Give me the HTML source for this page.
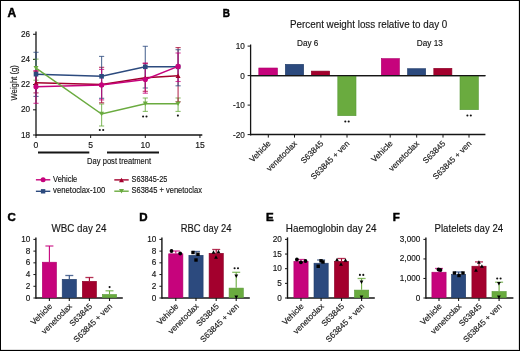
<!DOCTYPE html>
<html><head><meta charset="utf-8"><style>
html,body{margin:0;padding:0;background:#fff;}
svg{display:block;}
text{font-family:"Liberation Sans", sans-serif;stroke:#151515;stroke-width:0.15px;}
</style></head><body>
<div style="will-change:transform"><svg width="520" height="351" viewBox="0 0 520 351">
<rect x="0" y="0" width="520" height="351" fill="#fff"/>
<text x="7.6" y="16.8" font-size="12" text-anchor="start" font-weight="bold" fill="#000"  style="stroke:#000;stroke-width:0.5px">A</text>
<line x1="36" y1="31.5" x2="36" y2="135.7" stroke="#151515" stroke-width="1.3" />
<line x1="33" y1="135.0" x2="36" y2="135.0" stroke="#151515" stroke-width="1" />
<text x="30" y="137.5" font-size="8.2" text-anchor="end" font-weight="normal" fill="#151515" >18</text>
<line x1="33" y1="109.82" x2="36" y2="109.82" stroke="#151515" stroke-width="1" />
<text x="30" y="112.32" font-size="8.2" text-anchor="end" font-weight="normal" fill="#151515" >20</text>
<line x1="33" y1="84.64" x2="36" y2="84.64" stroke="#151515" stroke-width="1" />
<text x="30" y="87.14" font-size="8.2" text-anchor="end" font-weight="normal" fill="#151515" >22</text>
<line x1="33" y1="59.46000000000001" x2="36" y2="59.46000000000001" stroke="#151515" stroke-width="1" />
<text x="30" y="61.96000000000001" font-size="8.2" text-anchor="end" font-weight="normal" fill="#151515" >24</text>
<line x1="33" y1="34.28" x2="36" y2="34.28" stroke="#151515" stroke-width="1" />
<text x="30" y="36.78" font-size="8.2" text-anchor="end" font-weight="normal" fill="#151515" >26</text>
<line x1="36" y1="135" x2="202.3" y2="135" stroke="#151515" stroke-width="1.5" />
<line x1="36.0" y1="135" x2="36.0" y2="138" stroke="#151515" stroke-width="1" />
<text x="36.0" y="147.6" font-size="8.6" text-anchor="middle" font-weight="normal" fill="#151515" >0</text>
<line x1="90.65" y1="135" x2="90.65" y2="138" stroke="#151515" stroke-width="1" />
<text x="90.65" y="147.6" font-size="8.6" text-anchor="middle" font-weight="normal" fill="#151515" >5</text>
<line x1="145.3" y1="135" x2="145.3" y2="138" stroke="#151515" stroke-width="1" />
<text x="145.3" y="147.6" font-size="8.6" text-anchor="middle" font-weight="normal" fill="#151515" >10</text>
<line x1="199.95" y1="135" x2="199.95" y2="138" stroke="#151515" stroke-width="1" />
<text x="199.95" y="147.6" font-size="8.6" text-anchor="middle" font-weight="normal" fill="#151515" >15</text>
<line x1="38" y1="152.5" x2="89.3" y2="152.5" stroke="#151515" stroke-width="2" />
<line x1="107" y1="152.5" x2="159" y2="152.5" stroke="#151515" stroke-width="2" />
<text x="87.1" y="164.1" font-size="9.3" text-anchor="start" font-weight="normal" fill="#151515" textLength="64" lengthAdjust="spacingAndGlyphs">Day post treatment</text>
<text transform="translate(16.5,82.8) rotate(-90)" x="0" y="0" font-size="9.8" text-anchor="middle" fill="#151515" textLength="35.5" lengthAdjust="spacingAndGlyphs">Weight (g)</text>
<line x1="36.0" y1="59.1" x2="36.0" y2="80.2" stroke="#6aab3f" stroke-width="1.2" opacity="0.75"/>
<line x1="33.4" y1="59.1" x2="38.6" y2="59.1" stroke="#6aab3f" stroke-width="1.1" opacity="0.75"/>
<line x1="33.4" y1="80.2" x2="38.6" y2="80.2" stroke="#6aab3f" stroke-width="1.1" opacity="0.75"/>
<line x1="101.58" y1="104" x2="101.58" y2="126" stroke="#6aab3f" stroke-width="1.2" opacity="0.75"/>
<line x1="98.98" y1="104" x2="104.17999999999999" y2="104" stroke="#6aab3f" stroke-width="1.1" opacity="0.75"/>
<line x1="98.98" y1="126" x2="104.17999999999999" y2="126" stroke="#6aab3f" stroke-width="1.1" opacity="0.75"/>
<line x1="145.3" y1="98" x2="145.3" y2="111.4" stroke="#6aab3f" stroke-width="1.2" opacity="0.75"/>
<line x1="142.70000000000002" y1="98" x2="147.9" y2="98" stroke="#6aab3f" stroke-width="1.1" opacity="0.75"/>
<line x1="142.70000000000002" y1="111.4" x2="147.9" y2="111.4" stroke="#6aab3f" stroke-width="1.1" opacity="0.75"/>
<line x1="178.09" y1="98" x2="178.09" y2="111.4" stroke="#6aab3f" stroke-width="1.2" opacity="0.75"/>
<line x1="175.49" y1="98" x2="180.69" y2="98" stroke="#6aab3f" stroke-width="1.1" opacity="0.75"/>
<line x1="175.49" y1="111.4" x2="180.69" y2="111.4" stroke="#6aab3f" stroke-width="1.1" opacity="0.75"/>
<line x1="36.0" y1="71.4" x2="36.0" y2="92.9" stroke="#a3002d" stroke-width="1.2" opacity="0.75"/>
<line x1="33.4" y1="71.4" x2="38.6" y2="71.4" stroke="#a3002d" stroke-width="1.1" opacity="0.75"/>
<line x1="33.4" y1="92.9" x2="38.6" y2="92.9" stroke="#a3002d" stroke-width="1.1" opacity="0.75"/>
<line x1="101.58" y1="67.3" x2="101.58" y2="102.8" stroke="#a3002d" stroke-width="1.2" opacity="0.75"/>
<line x1="98.98" y1="67.3" x2="104.17999999999999" y2="67.3" stroke="#a3002d" stroke-width="1.1" opacity="0.75"/>
<line x1="98.98" y1="102.8" x2="104.17999999999999" y2="102.8" stroke="#a3002d" stroke-width="1.1" opacity="0.75"/>
<line x1="145.3" y1="63.5" x2="145.3" y2="91.3" stroke="#a3002d" stroke-width="1.2" opacity="0.75"/>
<line x1="142.70000000000002" y1="63.5" x2="147.9" y2="63.5" stroke="#a3002d" stroke-width="1.1" opacity="0.75"/>
<line x1="142.70000000000002" y1="91.3" x2="147.9" y2="91.3" stroke="#a3002d" stroke-width="1.1" opacity="0.75"/>
<line x1="178.09" y1="47.6" x2="178.09" y2="101.8" stroke="#a3002d" stroke-width="1.2" opacity="0.75"/>
<line x1="175.49" y1="47.6" x2="180.69" y2="47.6" stroke="#a3002d" stroke-width="1.1" opacity="0.75"/>
<line x1="175.49" y1="101.8" x2="180.69" y2="101.8" stroke="#a3002d" stroke-width="1.1" opacity="0.75"/>
<line x1="36.0" y1="52.3" x2="36.0" y2="96.4" stroke="#2c4a7e" stroke-width="1.2" opacity="0.75"/>
<line x1="33.4" y1="52.3" x2="38.6" y2="52.3" stroke="#2c4a7e" stroke-width="1.1" opacity="0.75"/>
<line x1="33.4" y1="96.4" x2="38.6" y2="96.4" stroke="#2c4a7e" stroke-width="1.1" opacity="0.75"/>
<line x1="101.58" y1="56.4" x2="101.58" y2="98.3" stroke="#2c4a7e" stroke-width="1.2" opacity="0.75"/>
<line x1="98.98" y1="56.4" x2="104.17999999999999" y2="56.4" stroke="#2c4a7e" stroke-width="1.1" opacity="0.75"/>
<line x1="98.98" y1="98.3" x2="104.17999999999999" y2="98.3" stroke="#2c4a7e" stroke-width="1.1" opacity="0.75"/>
<line x1="145.3" y1="46.3" x2="145.3" y2="88" stroke="#2c4a7e" stroke-width="1.2" opacity="0.75"/>
<line x1="142.70000000000002" y1="46.3" x2="147.9" y2="46.3" stroke="#2c4a7e" stroke-width="1.1" opacity="0.75"/>
<line x1="142.70000000000002" y1="88" x2="147.9" y2="88" stroke="#2c4a7e" stroke-width="1.1" opacity="0.75"/>
<line x1="178.09" y1="49.7" x2="178.09" y2="85.8" stroke="#2c4a7e" stroke-width="1.2" opacity="0.75"/>
<line x1="175.49" y1="49.7" x2="180.69" y2="49.7" stroke="#2c4a7e" stroke-width="1.1" opacity="0.75"/>
<line x1="175.49" y1="85.8" x2="180.69" y2="85.8" stroke="#2c4a7e" stroke-width="1.1" opacity="0.75"/>
<line x1="36.0" y1="70.5" x2="36.0" y2="103.3" stroke="#c6037c" stroke-width="1.2" opacity="0.75"/>
<line x1="33.4" y1="70.5" x2="38.6" y2="70.5" stroke="#c6037c" stroke-width="1.1" opacity="0.75"/>
<line x1="33.4" y1="103.3" x2="38.6" y2="103.3" stroke="#c6037c" stroke-width="1.1" opacity="0.75"/>
<line x1="101.58" y1="69.4" x2="101.58" y2="99.9" stroke="#c6037c" stroke-width="1.2" opacity="0.75"/>
<line x1="98.98" y1="69.4" x2="104.17999999999999" y2="69.4" stroke="#c6037c" stroke-width="1.1" opacity="0.75"/>
<line x1="98.98" y1="99.9" x2="104.17999999999999" y2="99.9" stroke="#c6037c" stroke-width="1.1" opacity="0.75"/>
<line x1="145.3" y1="63" x2="145.3" y2="93.2" stroke="#c6037c" stroke-width="1.2" opacity="0.75"/>
<line x1="142.70000000000002" y1="63" x2="147.9" y2="63" stroke="#c6037c" stroke-width="1.1" opacity="0.75"/>
<line x1="142.70000000000002" y1="93.2" x2="147.9" y2="93.2" stroke="#c6037c" stroke-width="1.1" opacity="0.75"/>
<line x1="178.09" y1="53" x2="178.09" y2="81.5" stroke="#c6037c" stroke-width="1.2" opacity="0.75"/>
<line x1="175.49" y1="53" x2="180.69" y2="53" stroke="#c6037c" stroke-width="1.1" opacity="0.75"/>
<line x1="175.49" y1="81.5" x2="180.69" y2="81.5" stroke="#c6037c" stroke-width="1.1" opacity="0.75"/>
<polyline points="36.0,74.2 101.58,76.3 145.3,66.8 178.09,66.8" fill="none" stroke="#2c4a7e" stroke-width="1.5"/>
<rect x="33.7" y="71.9" width="4.6" height="4.6" fill="#2c4a7e"/>
<rect x="99.28" y="74.0" width="4.6" height="4.6" fill="#2c4a7e"/>
<rect x="143.0" y="64.5" width="4.6" height="4.6" fill="#2c4a7e"/>
<rect x="175.79" y="64.5" width="4.6" height="4.6" fill="#2c4a7e"/>
<polyline points="36.0,82.7 101.58,84.5 145.3,77.8 178.09,75.8" fill="none" stroke="#a3002d" stroke-width="1.5"/>
<polygon points="33.5,84.95 38.5,84.95 36.0,80.45" fill="#a3002d"/>
<polygon points="99.08,86.75 104.08,86.75 101.58,82.25" fill="#a3002d"/>
<polygon points="142.8,80.05 147.8,80.05 145.3,75.55" fill="#a3002d"/>
<polygon points="175.59,78.05 180.59,78.05 178.09,73.55" fill="#a3002d"/>
<polyline points="36.0,86.8 101.58,84.9 145.3,79.5 178.09,66.4" fill="none" stroke="#c6037c" stroke-width="1.5"/>
<circle cx="36.0" cy="86.8" r="2.6" fill="#c6037c"/>
<circle cx="101.58" cy="84.9" r="2.6" fill="#c6037c"/>
<circle cx="145.3" cy="79.5" r="2.6" fill="#c6037c"/>
<circle cx="178.09" cy="66.4" r="2.6" fill="#c6037c"/>
<polyline points="36.0,68.2 101.58,114 145.3,103.7 178.09,103.7" fill="none" stroke="#6aab3f" stroke-width="1.5"/>
<polygon points="33.5,65.95 38.5,65.95 36.0,70.45" fill="#6aab3f"/>
<polygon points="99.08,111.75 104.08,111.75 101.58,116.25" fill="#6aab3f"/>
<polygon points="142.8,101.45 147.8,101.45 145.3,105.95" fill="#6aab3f"/>
<polygon points="175.59,101.45 180.59,101.45 178.09,105.95" fill="#6aab3f"/>
<circle cx="99.8" cy="130" r="1.05" fill="#111"/><circle cx="103.2" cy="130" r="1.05" fill="#111"/>
<circle cx="143.10000000000002" cy="116.5" r="1.05" fill="#111"/><circle cx="146.5" cy="116.5" r="1.05" fill="#111"/>
<circle cx="177.9" cy="115.6" r="1.05" fill="#111"/>
<line x1="35.9" y1="179.8" x2="50.3" y2="179.8" stroke="#c6037c" stroke-width="1.4" />
<circle cx="43.1" cy="179.8" r="2.5" fill="#c6037c"/>
<text x="53.099999999999994" y="181.60000000000002" font-size="8.8" text-anchor="start" font-weight="normal" fill="#151515" textLength="24.2" lengthAdjust="spacingAndGlyphs">Vehicle</text>
<line x1="35.9" y1="191.3" x2="50.3" y2="191.3" stroke="#2c4a7e" stroke-width="1.4" />
<rect x="40.9" y="189.10000000000002" width="4.4" height="4.4" fill="#2c4a7e"/>
<text x="53.099999999999994" y="193.10000000000002" font-size="8.8" text-anchor="start" font-weight="normal" fill="#151515" textLength="52.2" lengthAdjust="spacingAndGlyphs">venetoclax-100</text>
<line x1="114.3" y1="179.9" x2="128.7" y2="179.9" stroke="#a3002d" stroke-width="1.4" />
<polygon points="119.0,182.15 124.0,182.15 121.5,177.65" fill="#a3002d"/>
<text x="131.5" y="181.70000000000002" font-size="8.8" text-anchor="start" font-weight="normal" fill="#151515" textLength="35.8" lengthAdjust="spacingAndGlyphs">S63845-25</text>
<line x1="114.3" y1="191.2" x2="128.7" y2="191.2" stroke="#6aab3f" stroke-width="1.4" />
<polygon points="119.0,188.95 124.0,188.95 121.5,193.45" fill="#6aab3f"/>
<text x="131.5" y="193.0" font-size="8.8" text-anchor="start" font-weight="normal" fill="#151515" textLength="70.4" lengthAdjust="spacingAndGlyphs">S63845 + venetoclax</text>
<text x="222.7" y="16.8" font-size="11.6" text-anchor="start" font-weight="bold" fill="#000" textLength="7.2" lengthAdjust="spacingAndGlyphs" style="stroke:#000;stroke-width:0.5px">B</text>
<text x="290" y="27.6" font-size="10.6" text-anchor="start" font-weight="normal" fill="#151515" textLength="157.3" lengthAdjust="spacingAndGlyphs">Percent weight loss relative to day 0</text>
<line x1="250.6" y1="44.5" x2="250.6" y2="135.5" stroke="#151515" stroke-width="1.3" />
<line x1="247.6" y1="46.099999999999994" x2="250.6" y2="46.099999999999994" stroke="#151515" stroke-width="1" />
<text x="244.9" y="48.99999999999999" font-size="8.2" text-anchor="end" font-weight="normal" fill="#151515" >10</text>
<line x1="247.6" y1="75.6" x2="250.6" y2="75.6" stroke="#151515" stroke-width="1" />
<text x="244.9" y="78.5" font-size="8.2" text-anchor="end" font-weight="normal" fill="#151515" >0</text>
<line x1="247.6" y1="105.1" x2="250.6" y2="105.1" stroke="#151515" stroke-width="1" />
<text x="244.9" y="108.0" font-size="8.2" text-anchor="end" font-weight="normal" fill="#151515" >-10</text>
<line x1="247.6" y1="134.6" x2="250.6" y2="134.6" stroke="#151515" stroke-width="1" />
<text x="244.9" y="137.5" font-size="8.2" text-anchor="end" font-weight="normal" fill="#151515" >-20</text>
<line x1="250.6" y1="75.6" x2="485.4" y2="75.6" stroke="#151515" stroke-width="1.1" />
<line x1="250.6" y1="134.6" x2="485.4" y2="134.6" stroke="#151515" stroke-width="1.5" />
<line x1="268.3" y1="134.6" x2="268.3" y2="137.6" stroke="#151515" stroke-width="1" />
<line x1="294.5" y1="134.6" x2="294.5" y2="137.6" stroke="#151515" stroke-width="1" />
<line x1="320.9" y1="134.6" x2="320.9" y2="137.6" stroke="#151515" stroke-width="1" />
<line x1="347" y1="134.6" x2="347" y2="137.6" stroke="#151515" stroke-width="1" />
<line x1="390.2" y1="134.6" x2="390.2" y2="137.6" stroke="#151515" stroke-width="1" />
<line x1="416.7" y1="134.6" x2="416.7" y2="137.6" stroke="#151515" stroke-width="1" />
<line x1="443" y1="134.6" x2="443" y2="137.6" stroke="#151515" stroke-width="1" />
<line x1="469" y1="134.6" x2="469" y2="137.6" stroke="#151515" stroke-width="1" />
<rect x="258.8" y="68.0" width="18.7" height="7.299999999999992" fill="#c6037c" stroke="#ad006c" stroke-width="0.6"/>
<rect x="285.3" y="64.3" width="18.4" height="10.999999999999995" fill="#2c4a7e" stroke="#213c6a" stroke-width="0.6"/>
<rect x="311.3" y="71.1" width="18.4" height="4.1999999999999975" fill="#a3002d" stroke="#8a0026" stroke-width="0.6"/>
<rect x="337.8" y="75.89999999999999" width="18.2" height="39.800000000000004" fill="#6aab3f" stroke="#589a36" stroke-width="0.6"/>
<rect x="381.3" y="58.599999999999994" width="18.099999999999998" height="16.699999999999996" fill="#c6037c" stroke="#ad006c" stroke-width="0.6"/>
<rect x="407.5" y="68.7" width="18.2" height="6.599999999999989" fill="#2c4a7e" stroke="#213c6a" stroke-width="0.6"/>
<rect x="433.8" y="68.3" width="18.099999999999998" height="6.999999999999995" fill="#a3002d" stroke="#8a0026" stroke-width="0.6"/>
<rect x="460.0" y="75.89999999999999" width="18.4" height="33.800000000000004" fill="#6aab3f" stroke="#589a36" stroke-width="0.6"/>
<line x1="250.6" y1="75.6" x2="485.4" y2="75.6" stroke="#151515" stroke-width="1.1" />
<text x="307.7" y="46.1" font-size="8.2" text-anchor="middle" font-weight="normal" fill="#151515" >Day 6</text>
<text x="429.8" y="46.1" font-size="8.2" text-anchor="middle" font-weight="normal" fill="#151515" >Day 13</text>
<circle cx="345.3" cy="121.5" r="1.05" fill="#111"/><circle cx="348.7" cy="121.5" r="1.05" fill="#111"/>
<circle cx="467.40000000000003" cy="115.5" r="1.05" fill="#111"/><circle cx="470.8" cy="115.5" r="1.05" fill="#111"/>
<text transform="translate(271.3,144.1) rotate(-45)" font-size="8.2" text-anchor="end" fill="#151515">Vehicle</text>
<text transform="translate(297.5,144.1) rotate(-45)" font-size="8.2" text-anchor="end" fill="#151515">venetoclax</text>
<text transform="translate(323.9,144.1) rotate(-45)" font-size="8.2" text-anchor="end" fill="#151515">S63845</text>
<text transform="translate(350,144.1) rotate(-45)" font-size="8.2" text-anchor="end" fill="#151515">S63845 + ven</text>
<text transform="translate(393.2,144.1) rotate(-45)" font-size="8.2" text-anchor="end" fill="#151515">Vehicle</text>
<text transform="translate(419.7,144.1) rotate(-45)" font-size="8.2" text-anchor="end" fill="#151515">venetoclax</text>
<text transform="translate(446,144.1) rotate(-45)" font-size="8.2" text-anchor="end" fill="#151515">S63845</text>
<text transform="translate(472,144.1) rotate(-45)" font-size="8.2" text-anchor="end" fill="#151515">S63845 + ven</text>
<text x="7.5" y="221.2" font-size="11.5" text-anchor="start" font-weight="bold" fill="#000"  style="stroke:#000;stroke-width:0.5px">C</text>
<text x="51.5" y="231.6" font-size="10.6" text-anchor="start" font-weight="normal" fill="#151515" textLength="55" lengthAdjust="spacingAndGlyphs">WBC day 24</text>
<line x1="35.9" y1="237.4" x2="35.9" y2="298.7" stroke="#151515" stroke-width="1.4" />
<line x1="33.4" y1="298.0" x2="35.9" y2="298.0" stroke="#151515" stroke-width="1" />
<text x="30.299999999999997" y="300.5" font-size="8.2" text-anchor="end" font-weight="normal" fill="#151515" >0</text>
<line x1="33.4" y1="286.28" x2="35.9" y2="286.28" stroke="#151515" stroke-width="1" />
<text x="30.299999999999997" y="288.78" font-size="8.2" text-anchor="end" font-weight="normal" fill="#151515" >2</text>
<line x1="33.4" y1="274.56" x2="35.9" y2="274.56" stroke="#151515" stroke-width="1" />
<text x="30.299999999999997" y="277.06" font-size="8.2" text-anchor="end" font-weight="normal" fill="#151515" >4</text>
<line x1="33.4" y1="262.84000000000003" x2="35.9" y2="262.84000000000003" stroke="#151515" stroke-width="1" />
<text x="30.299999999999997" y="265.34000000000003" font-size="8.2" text-anchor="end" font-weight="normal" fill="#151515" >6</text>
<line x1="33.4" y1="251.12" x2="35.9" y2="251.12" stroke="#151515" stroke-width="1" />
<text x="30.299999999999997" y="253.62" font-size="8.2" text-anchor="end" font-weight="normal" fill="#151515" >8</text>
<line x1="33.4" y1="239.4" x2="35.9" y2="239.4" stroke="#151515" stroke-width="1" />
<text x="30.299999999999997" y="241.9" font-size="8.2" text-anchor="end" font-weight="normal" fill="#151515" >10</text>
<line x1="35.9" y1="298" x2="122.8" y2="298" stroke="#151515" stroke-width="1.5" />
<rect x="42.3" y="262.2" width="14.200000000000001" height="35.50000000000002" fill="#c6037c" stroke="#ad006c" stroke-width="0.6"/>
<line x1="49.4" y1="261.9" x2="49.4" y2="246" stroke="#c6037c" stroke-width="1.1" />
<line x1="45.4" y1="246" x2="53.4" y2="246" stroke="#c6037c" stroke-width="1.3" opacity="0.8"/>
<line x1="49.4" y1="298" x2="49.4" y2="301" stroke="#151515" stroke-width="1.1" />
<rect x="62.199999999999996" y="279.3" width="14.200000000000001" height="18.4" fill="#2c4a7e" stroke="#213c6a" stroke-width="0.6"/>
<line x1="69.3" y1="279" x2="69.3" y2="275.5" stroke="#2c4a7e" stroke-width="1.1" />
<line x1="65.3" y1="275.5" x2="73.3" y2="275.5" stroke="#2c4a7e" stroke-width="1.3" opacity="0.8"/>
<line x1="69.3" y1="298" x2="69.3" y2="301" stroke="#151515" stroke-width="1.1" />
<rect x="82.3" y="281.3" width="14.200000000000001" height="16.4" fill="#a3002d" stroke="#8a0026" stroke-width="0.6"/>
<line x1="89.4" y1="281" x2="89.4" y2="277.5" stroke="#a3002d" stroke-width="1.1" />
<line x1="85.4" y1="277.5" x2="93.4" y2="277.5" stroke="#a3002d" stroke-width="1.3" opacity="0.8"/>
<line x1="89.4" y1="298" x2="89.4" y2="301" stroke="#151515" stroke-width="1.1" />
<rect x="102.39999999999999" y="294.5" width="14.200000000000001" height="3.2000000000000113" fill="#6aab3f" stroke="#589a36" stroke-width="0.6"/>
<line x1="109.5" y1="294.2" x2="109.5" y2="290.8" stroke="#6aab3f" stroke-width="1.1" />
<line x1="105.5" y1="290.8" x2="113.5" y2="290.8" stroke="#6aab3f" stroke-width="1.3" opacity="0.8"/>
<line x1="109.5" y1="298" x2="109.5" y2="301" stroke="#151515" stroke-width="1.1" />
<text transform="translate(52.6,306.8) rotate(-45)" font-size="8.2" text-anchor="end" fill="#151515">Vehicle</text>
<text transform="translate(72.5,306.8) rotate(-45)" font-size="8.2" text-anchor="end" fill="#151515">venetoclax</text>
<text transform="translate(92.60000000000001,306.8) rotate(-45)" font-size="8.2" text-anchor="end" fill="#151515">S63845</text>
<text transform="translate(112.7,306.8) rotate(-45)" font-size="8.2" text-anchor="end" fill="#151515">S63845 + ven</text>
<circle cx="109.6" cy="287.1" r="1.05" fill="#111"/>
<text x="139.3" y="221.2" font-size="11.5" text-anchor="start" font-weight="bold" fill="#000"  style="stroke:#000;stroke-width:0.5px">D</text>
<text x="180.75" y="231.6" font-size="10.6" text-anchor="start" font-weight="normal" fill="#151515" textLength="50.7" lengthAdjust="spacingAndGlyphs">RBC day 24</text>
<line x1="161.9" y1="237.4" x2="161.9" y2="298.7" stroke="#151515" stroke-width="1.4" />
<line x1="159.4" y1="298.0" x2="161.9" y2="298.0" stroke="#151515" stroke-width="1" />
<text x="156.3" y="300.5" font-size="8.2" text-anchor="end" font-weight="normal" fill="#151515" >0</text>
<line x1="159.4" y1="286.28" x2="161.9" y2="286.28" stroke="#151515" stroke-width="1" />
<text x="156.3" y="288.78" font-size="8.2" text-anchor="end" font-weight="normal" fill="#151515" >2</text>
<line x1="159.4" y1="274.56" x2="161.9" y2="274.56" stroke="#151515" stroke-width="1" />
<text x="156.3" y="277.06" font-size="8.2" text-anchor="end" font-weight="normal" fill="#151515" >4</text>
<line x1="159.4" y1="262.84000000000003" x2="161.9" y2="262.84000000000003" stroke="#151515" stroke-width="1" />
<text x="156.3" y="265.34000000000003" font-size="8.2" text-anchor="end" font-weight="normal" fill="#151515" >6</text>
<line x1="159.4" y1="251.12" x2="161.9" y2="251.12" stroke="#151515" stroke-width="1" />
<text x="156.3" y="253.62" font-size="8.2" text-anchor="end" font-weight="normal" fill="#151515" >8</text>
<line x1="159.4" y1="239.4" x2="161.9" y2="239.4" stroke="#151515" stroke-width="1" />
<text x="156.3" y="241.9" font-size="8.2" text-anchor="end" font-weight="normal" fill="#151515" >10</text>
<line x1="161.9" y1="298" x2="249.8" y2="298" stroke="#151515" stroke-width="1.5" />
<rect x="168.70000000000002" y="253.8" width="14.200000000000001" height="43.9" fill="#c6037c" stroke="#ad006c" stroke-width="0.6"/>
<line x1="175.8" y1="253.5" x2="175.8" y2="251" stroke="#c6037c" stroke-width="1.1" />
<line x1="171.8" y1="251" x2="179.8" y2="251" stroke="#c6037c" stroke-width="1.3" opacity="0.8"/>
<line x1="175.8" y1="298" x2="175.8" y2="301" stroke="#151515" stroke-width="1.1" />
<rect x="188.9" y="255.3" width="14.200000000000001" height="42.4" fill="#2c4a7e" stroke="#213c6a" stroke-width="0.6"/>
<line x1="196" y1="255" x2="196" y2="251.5" stroke="#2c4a7e" stroke-width="1.1" />
<line x1="192" y1="251.5" x2="200" y2="251.5" stroke="#2c4a7e" stroke-width="1.3" opacity="0.8"/>
<line x1="196" y1="298" x2="196" y2="301" stroke="#151515" stroke-width="1.1" />
<rect x="209.1" y="253.3" width="14.200000000000001" height="44.4" fill="#a3002d" stroke="#8a0026" stroke-width="0.6"/>
<line x1="216.2" y1="253" x2="216.2" y2="249.5" stroke="#a3002d" stroke-width="1.1" />
<line x1="212.2" y1="249.5" x2="220.2" y2="249.5" stroke="#a3002d" stroke-width="1.3" opacity="0.8"/>
<line x1="216.2" y1="298" x2="216.2" y2="301" stroke="#151515" stroke-width="1.1" />
<rect x="229.1" y="288.1" width="14.200000000000001" height="9.599999999999989" fill="#6aab3f" stroke="#589a36" stroke-width="0.6"/>
<line x1="236.2" y1="287.8" x2="236.2" y2="272.3" stroke="#6aab3f" stroke-width="1.1" />
<line x1="232.2" y1="272.3" x2="240.2" y2="272.3" stroke="#6aab3f" stroke-width="1.3" opacity="0.8"/>
<line x1="236.2" y1="298" x2="236.2" y2="301" stroke="#151515" stroke-width="1.1" />
<text transform="translate(179.0,306.8) rotate(-45)" font-size="8.2" text-anchor="end" fill="#151515">Vehicle</text>
<text transform="translate(199.2,306.8) rotate(-45)" font-size="8.2" text-anchor="end" fill="#151515">venetoclax</text>
<text transform="translate(219.39999999999998,306.8) rotate(-45)" font-size="8.2" text-anchor="end" fill="#151515">S63845</text>
<text transform="translate(239.39999999999998,306.8) rotate(-45)" font-size="8.2" text-anchor="end" fill="#151515">S63845 + ven</text>
<text x="266" y="221.2" font-size="11.5" text-anchor="start" font-weight="bold" fill="#000"  style="stroke:#000;stroke-width:0.5px">E</text>
<text x="285.75" y="231.6" font-size="10.6" text-anchor="start" font-weight="normal" fill="#151515" textLength="90.7" lengthAdjust="spacingAndGlyphs">Haemoglobin day 24</text>
<line x1="287.5" y1="237.4" x2="287.5" y2="298.7" stroke="#151515" stroke-width="1.4" />
<line x1="285.0" y1="298.0" x2="287.5" y2="298.0" stroke="#151515" stroke-width="1" />
<text x="281.9" y="300.5" font-size="8.2" text-anchor="end" font-weight="normal" fill="#151515" >0</text>
<line x1="285.0" y1="283.35" x2="287.5" y2="283.35" stroke="#151515" stroke-width="1" />
<text x="281.9" y="285.85" font-size="8.2" text-anchor="end" font-weight="normal" fill="#151515" >5</text>
<line x1="285.0" y1="268.7" x2="287.5" y2="268.7" stroke="#151515" stroke-width="1" />
<text x="281.9" y="271.2" font-size="8.2" text-anchor="end" font-weight="normal" fill="#151515" >10</text>
<line x1="285.0" y1="254.05" x2="287.5" y2="254.05" stroke="#151515" stroke-width="1" />
<text x="281.9" y="256.55" font-size="8.2" text-anchor="end" font-weight="normal" fill="#151515" >15</text>
<line x1="285.0" y1="239.4" x2="287.5" y2="239.4" stroke="#151515" stroke-width="1" />
<text x="281.9" y="241.9" font-size="8.2" text-anchor="end" font-weight="normal" fill="#151515" >20</text>
<line x1="287.5" y1="298" x2="374.8" y2="298" stroke="#151515" stroke-width="1.5" />
<rect x="293.90000000000003" y="261.3" width="14.200000000000001" height="36.4" fill="#c6037c" stroke="#ad006c" stroke-width="0.6"/>
<line x1="301" y1="261" x2="301" y2="259.5" stroke="#c6037c" stroke-width="1.1" />
<line x1="297" y1="259.5" x2="305" y2="259.5" stroke="#c6037c" stroke-width="1.3" opacity="0.8"/>
<line x1="301" y1="298" x2="301" y2="301" stroke="#151515" stroke-width="1.1" />
<rect x="314.00000000000006" y="263.2" width="14.200000000000001" height="34.50000000000002" fill="#2c4a7e" stroke="#213c6a" stroke-width="0.6"/>
<line x1="321.1" y1="262.9" x2="321.1" y2="260" stroke="#2c4a7e" stroke-width="1.1" />
<line x1="317.1" y1="260" x2="325.1" y2="260" stroke="#2c4a7e" stroke-width="1.3" opacity="0.8"/>
<line x1="321.1" y1="298" x2="321.1" y2="301" stroke="#151515" stroke-width="1.1" />
<rect x="334.40000000000003" y="261.3" width="14.200000000000001" height="36.4" fill="#a3002d" stroke="#8a0026" stroke-width="0.6"/>
<line x1="341.5" y1="261" x2="341.5" y2="258.5" stroke="#a3002d" stroke-width="1.1" />
<line x1="337.5" y1="258.5" x2="345.5" y2="258.5" stroke="#a3002d" stroke-width="1.3" opacity="0.8"/>
<line x1="341.5" y1="298" x2="341.5" y2="301" stroke="#151515" stroke-width="1.1" />
<rect x="354.50000000000006" y="290.1" width="14.200000000000001" height="7.599999999999989" fill="#6aab3f" stroke="#589a36" stroke-width="0.6"/>
<line x1="361.6" y1="289.8" x2="361.6" y2="278.5" stroke="#6aab3f" stroke-width="1.1" />
<line x1="357.6" y1="278.5" x2="365.6" y2="278.5" stroke="#6aab3f" stroke-width="1.3" opacity="0.8"/>
<line x1="361.6" y1="298" x2="361.6" y2="301" stroke="#151515" stroke-width="1.1" />
<text transform="translate(304.2,306.8) rotate(-45)" font-size="8.2" text-anchor="end" fill="#151515">Vehicle</text>
<text transform="translate(324.3,306.8) rotate(-45)" font-size="8.2" text-anchor="end" fill="#151515">venetoclax</text>
<text transform="translate(344.7,306.8) rotate(-45)" font-size="8.2" text-anchor="end" fill="#151515">S63845</text>
<text transform="translate(364.8,306.8) rotate(-45)" font-size="8.2" text-anchor="end" fill="#151515">S63845 + ven</text>
<text x="392.8" y="221.2" font-size="11.5" text-anchor="start" font-weight="bold" fill="#000"  style="stroke:#000;stroke-width:0.5px">F</text>
<text x="434.5" y="231.6" font-size="10.6" text-anchor="start" font-weight="normal" fill="#151515" textLength="68.7" lengthAdjust="spacingAndGlyphs">Platelets day 24</text>
<line x1="425.9" y1="237.4" x2="425.9" y2="298.7" stroke="#151515" stroke-width="1.4" />
<line x1="423.4" y1="298.0" x2="425.9" y2="298.0" stroke="#151515" stroke-width="1" />
<text x="420.29999999999995" y="300.5" font-size="8.2" text-anchor="end" font-weight="normal" fill="#151515" >0</text>
<line x1="423.4" y1="278.4666666666667" x2="425.9" y2="278.4666666666667" stroke="#151515" stroke-width="1" />
<text x="420.29999999999995" y="280.9666666666667" font-size="8.2" text-anchor="end" font-weight="normal" fill="#151515" >1,000</text>
<line x1="423.4" y1="258.93333333333334" x2="425.9" y2="258.93333333333334" stroke="#151515" stroke-width="1" />
<text x="420.29999999999995" y="261.43333333333334" font-size="8.2" text-anchor="end" font-weight="normal" fill="#151515" >2,000</text>
<line x1="423.4" y1="239.4" x2="425.9" y2="239.4" stroke="#151515" stroke-width="1" />
<text x="420.29999999999995" y="241.9" font-size="8.2" text-anchor="end" font-weight="normal" fill="#151515" >3,000</text>
<line x1="425.9" y1="298" x2="513.4" y2="298" stroke="#151515" stroke-width="1.5" />
<rect x="431.90000000000003" y="272.2" width="14.200000000000001" height="25.50000000000002" fill="#c6037c" stroke="#ad006c" stroke-width="0.6"/>
<line x1="439" y1="271.9" x2="439" y2="268.5" stroke="#c6037c" stroke-width="1.1" />
<line x1="435" y1="268.5" x2="443" y2="268.5" stroke="#c6037c" stroke-width="1.3" opacity="0.8"/>
<line x1="439" y1="298" x2="439" y2="301" stroke="#151515" stroke-width="1.1" />
<rect x="451.50000000000006" y="274.6" width="14.200000000000001" height="23.099999999999987" fill="#2c4a7e" stroke="#213c6a" stroke-width="0.6"/>
<line x1="458.6" y1="274.3" x2="458.6" y2="272" stroke="#2c4a7e" stroke-width="1.1" />
<line x1="454.6" y1="272" x2="462.6" y2="272" stroke="#2c4a7e" stroke-width="1.3" opacity="0.8"/>
<line x1="458.6" y1="298" x2="458.6" y2="301" stroke="#151515" stroke-width="1.1" />
<rect x="471.90000000000003" y="266.2" width="14.200000000000001" height="31.50000000000002" fill="#a3002d" stroke="#8a0026" stroke-width="0.6"/>
<line x1="479" y1="265.9" x2="479" y2="261.9" stroke="#a3002d" stroke-width="1.1" />
<line x1="475" y1="261.9" x2="483" y2="261.9" stroke="#a3002d" stroke-width="1.3" opacity="0.8"/>
<line x1="479" y1="298" x2="479" y2="301" stroke="#151515" stroke-width="1.1" />
<rect x="492.00000000000006" y="291.5" width="14.200000000000001" height="6.200000000000012" fill="#6aab3f" stroke="#589a36" stroke-width="0.6"/>
<line x1="499.1" y1="291.2" x2="499.1" y2="282.2" stroke="#6aab3f" stroke-width="1.1" />
<line x1="495.1" y1="282.2" x2="503.1" y2="282.2" stroke="#6aab3f" stroke-width="1.3" opacity="0.8"/>
<line x1="499.1" y1="298" x2="499.1" y2="301" stroke="#151515" stroke-width="1.1" />
<text transform="translate(442.2,306.8) rotate(-45)" font-size="8.2" text-anchor="end" fill="#151515">Vehicle</text>
<text transform="translate(461.8,306.8) rotate(-45)" font-size="8.2" text-anchor="end" fill="#151515">venetoclax</text>
<text transform="translate(482.2,306.8) rotate(-45)" font-size="8.2" text-anchor="end" fill="#151515">S63845</text>
<text transform="translate(502.3,306.8) rotate(-45)" font-size="8.2" text-anchor="end" fill="#151515">S63845 + ven</text>
<circle cx="171.5" cy="251" r="1.9" fill="#000"/>
<circle cx="180.2" cy="253.5" r="1.9" fill="#000"/>
<rect x="191.3" y="250.8" width="3.4" height="3.4" fill="#000"/>
<rect x="196.3" y="252.60000000000002" width="3.4" height="3.4" fill="#000"/>
<rect x="194.3" y="258.3" width="3.4" height="3.4" fill="#000"/>
<polygon points="211.6,253.71 215.4,253.71 213.5,250.29" fill="#000"/>
<polygon points="216.6,253.21 220.4,253.21 218.5,249.79" fill="#000"/>
<polygon points="214.1,258.71 217.9,258.71 216,255.29" fill="#000"/>
<polygon points="234.4,274.59000000000003 238.20000000000002,274.59000000000003 236.3,278.01" fill="#000"/>
<polygon points="234.4,295.59000000000003 238.20000000000002,295.59000000000003 236.3,299.01" fill="#000"/>
<circle cx="234.60000000000002" cy="268.2" r="1.05" fill="#111"/><circle cx="238.0" cy="268.2" r="1.05" fill="#111"/>
<circle cx="296.9" cy="259.5" r="1.9" fill="#000"/>
<circle cx="300.9" cy="262.3" r="1.9" fill="#000"/>
<circle cx="305.5" cy="261" r="1.9" fill="#000"/>
<rect x="316.5" y="264.6" width="3.4" height="3.4" fill="#000"/>
<rect x="319.3" y="259.1" width="3.4" height="3.4" fill="#000"/>
<rect x="321.3" y="260.3" width="3.4" height="3.4" fill="#000"/>
<polygon points="335.1,261.21 338.9,261.21 337,257.79" fill="#000"/>
<polygon points="343.6,261.71 347.4,261.71 345.5,258.29" fill="#000"/>
<polygon points="339.1,265.71 342.9,265.71 341,262.29" fill="#000"/>
<polygon points="359.6,280.49 363.4,280.49 361.5,283.90999999999997" fill="#000"/>
<polygon points="359.6,295.59000000000003 363.4,295.59000000000003 361.5,299.01" fill="#000"/>
<circle cx="359.90000000000003" cy="274.9" r="1.05" fill="#111"/><circle cx="363.3" cy="274.9" r="1.05" fill="#111"/>
<circle cx="438.5" cy="269.5" r="1.9" fill="#000"/>
<circle cx="440.5" cy="270" r="1.9" fill="#000"/>
<rect x="452.7" y="271.3" width="3.4" height="3.4" fill="#000"/>
<rect x="457.3" y="273.8" width="3.4" height="3.4" fill="#000"/>
<rect x="461.3" y="271.3" width="3.4" height="3.4" fill="#000"/>
<polygon points="477.0,263.71 480.79999999999995,263.71 478.9,260.29" fill="#000"/>
<polygon points="480.0,267.71 483.79999999999995,267.71 481.9,264.29" fill="#000"/>
<polygon points="474.1,271.71 477.9,271.71 476,268.29" fill="#000"/>
<polygon points="497.0,282.09000000000003 500.79999999999995,282.09000000000003 498.9,285.51" fill="#000"/>
<polygon points="497.0,295.59000000000003 500.79999999999995,295.59000000000003 498.9,299.01" fill="#000"/>
<circle cx="497.2" cy="278.5" r="1.05" fill="#111"/><circle cx="500.59999999999997" cy="278.5" r="1.05" fill="#111"/>
<rect x="0" y="0" width="520" height="1" fill="#000"/>
<rect x="0" y="0" width="1" height="351" fill="#000"/>
<rect x="519" y="0" width="1" height="351" fill="#000"/>
<rect x="0" y="350" width="520" height="1" fill="#000"/>
<rect x="518" y="1" width="1" height="349" fill="#000" opacity="0.12"/>
<rect x="1" y="349" width="517" height="1" fill="#000" opacity="0.12"/>
</svg></div>
</body></html>
